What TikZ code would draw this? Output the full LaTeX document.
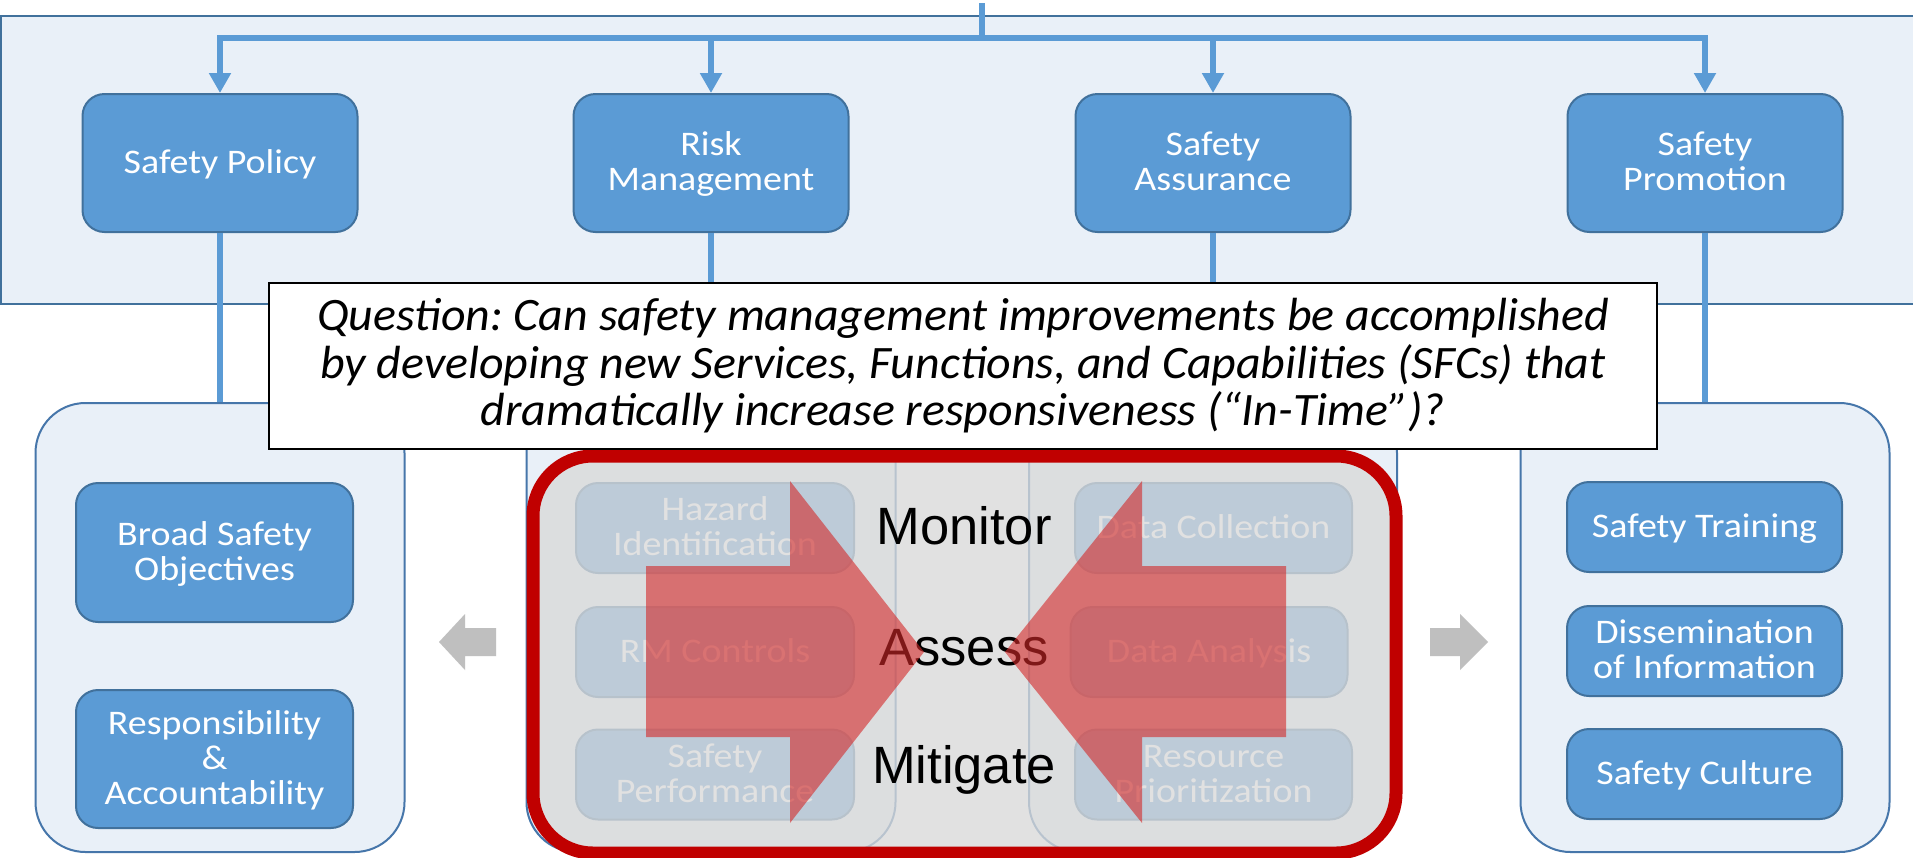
\documentclass[tikz,border=0pt]{standalone}
\usepackage{fontspec}
\setmainfont{Carlito}
\newfontfamily\arialfont{Liberation Sans}
\newfontfamily\boxfam[FakeStretch=1.1]{Carlito}
\newfontfamily\qfam[FakeStretch=1.03]{Carlito}
\usetikzlibrary{arrows.meta}
\definecolor{boxblue}{RGB}{91,155,213}
\definecolor{boxborder}{RGB}{65,113,156}
\definecolor{contfill}{RGB}{233,240,248}
\definecolor{contborder}{RGB}{70,118,170}
\definecolor{connblue}{RGB}{91,155,213}
\definecolor{overlaygray}{RGB}{217,217,217}
\definecolor{darkred}{RGB}{192,0,0}
\definecolor{arrowred}{RGB}{212,40,40}
\definecolor{sidegray}{RGB}{191,191,191}
\frenchspacing
\newcommand{\bxfont}{\boxfam\fontsize{34.5}{35}\selectfont}
\newcommand{\qfont}{\qfam\fontsize{46.5}{47.5}\selectfont\itshape\frenchspacing}
\newcommand{\bigfont}{\arialfont\fontsize{52.5}{60}\selectfont}
\newcommand{\topstrut}{\rule{0pt}{30.5pt}}
\begin{document}
\begin{tikzpicture}[x=1pt,y=-1pt,
  bluebox/.style={draw=boxborder, fill=boxblue, line width=2pt, rounded corners=22pt, text=white, font=\bxfont, align=center, inner sep=0pt, execute at begin node=\topstrut, execute at end node=\strut},
  topbox/.style={bluebox, minimum width=275pt, minimum height=138pt},
  childbox/.style={bluebox, minimum width=277pt, minimum height=90pt},
  cont/.style={draw=contborder, fill=contfill, line width=2pt, rounded corners=50pt, inner sep=0pt, minimum width=369pt, minimum height=449pt},
  conn/.style={draw=connblue, line width=6.5pt},
  tipdown/.style={-{Triangle[width=21pt,length=20pt]}},
  biglabel/.style={font=\bigfont, anchor=base, inner sep=0pt},
  sidearrow/.style={fill=sidegray},
  redarrow/.style={fill=arrowred, fill opacity=0.6},
]
\useasboundingbox (0,0) rectangle (1913,857);
\clip (0,0) rectangle (1913,857);
\fill[white] (0,0) rectangle (1913,857);
% top band
\draw[draw=boxborder, fill=contfill, line width=2.5pt] (1,16) rectangle (1940,304);
% top boxes
\node[topbox] (sp)  at (220,163)  {Safety Policy};
\node[topbox] (rm)  at (711,163)  {\topstrut Risk\\Management};
\node[topbox] (sa)  at (1213,163) {\topstrut Safety\\Assurance};
\node[topbox] (spr) at (1705,163) {\topstrut Safety\\Promotion};
% distribution connectors
\coordinate (stem) at (982,3);
\coordinate (hub) at (982,38);
\draw[conn] (stem) -- (hub);
\draw[conn,tipdown] (hub) -| (sp.north);
\draw[conn,tipdown] (hub) -| (rm.north);
\draw[conn,tipdown] (hub) -| (sa.north);
\draw[conn,tipdown] (hub) -| (spr.north);
% containers
\node[cont] (lc)  at (220,627.5)  {};
\node[cont] (mlc) at (711,627.5)  {};
\node[cont, minimum width=368pt] (mrc) at (1213,627.5) {};
\node[cont] (rc)  at (1705,627.5) {};
\draw[conn] (sp.south) -- (lc.north);
\draw[conn] (rm.south) -- (mlc.north);
\draw[conn] (sa.south) -- (mrc.north);
\draw[conn] (spr.south) -- (rc.north);
% left children
\node[childbox, minimum height=139pt] (bso) at (214.5,552.5) {\topstrut Broad Safety\\Objectives};
\node[childbox, minimum height=138pt] (ra)  at (214.5,759) {\topstrut Responsibility\\\&\\Accountability};
% right children
\node[childbox, minimum width=275pt] (st) at (1704.5,527) {Safety Training};
\node[childbox, minimum width=275pt] (di) at (1704.5,651) {\topstrut Dissemination\\of Information};
\node[childbox, minimum width=275pt] (sc) at (1704.5,774) {Safety Culture};
% middle children (faded by overlay)
\node[childbox, minimum width=278pt] (hi) at (715,528) {\topstrut Hazard\\Identification};
\node[childbox, minimum width=278pt] (rmc) at (715,652) {RM Controls};
\node[childbox, minimum width=278pt] (spf) at (715,774.5) {\topstrut Safety\\Performance};
\node[childbox] (dc) at (1213.5,528) {Data Collection};
\node[childbox] (da) at (1209,652) {Data Analysis};
\node[childbox] (rp) at (1213.5,774.5) {\topstrut Resource\\Prioritization};
% overlay
\fill[overlaygray, fill opacity=0.78, rounded corners=60pt] (533,456) rectangle (1396,853);
\draw[darkred, line width=13pt, rounded corners=60pt] (533,456) rectangle (1396,853);
\node[biglabel] (mon) at (964,544) {Monitor};
\node[biglabel] (ass) at (964,665) {Assess};
\node[biglabel] (mit) at (964,783) {Mitigate};
% red block arrows
\path[redarrow] (646,566) -- (790,566) -- (790,481) -- (924,652) -- (790,823) -- (790,737) -- (646,737) -- cycle;
\path[redarrow] (1286,566) -- (1142,566) -- (1142,481) -- (1005,652) -- (1142,823) -- (1142,737) -- (1286,737) -- cycle;
% side gray arrows
\path[sidearrow] (439,642) -- (465,614) -- (465,628) -- (496,628) -- (496,656) -- (465,656) -- (465,670) -- cycle;
\path[sidearrow] (1488,642) -- (1460,614) -- (1460,628) -- (1430,628) -- (1430,656) -- (1460,656) -- (1460,670) -- cycle;
% question box
\node[draw=black, fill=white, line width=2.5pt, minimum width=1388pt, minimum height=166pt, inner sep=0pt, align=center, font=\qfont] (q) at (963,366)
  {Question: Can safety management improvements be accomplished\\by developing new Services, Functions, and Capabilities (SFCs) that\\dramatically increase responsiveness (“In-Time”)?};
\end{tikzpicture}
\end{document}
